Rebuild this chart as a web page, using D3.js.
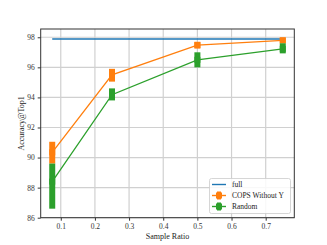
<!DOCTYPE html>
<html><head><meta charset="utf-8">
<script src="https://cdn.jsdelivr.net/npm/d3@7"></script>
<style>body{margin:0;background:#fff}svg{display:block}text{font-family:"Liberation Serif","Times New Roman",serif}</style>
</head><body><div id="c"></div>
<script>
const ratios = [0.075, 0.25, 0.5, 0.75];
const fullValue = 97.88;
const copsMean = [90.35, 95.5, 97.48, 97.8];
const copsLow  = [89.6, 95.05, 97.25, 97.6];
const copsHigh = [91.05, 95.9, 97.7, 97.98];
const randMean = [88.4, 94.18, 96.5, 97.23];
const randLow  = [86.6, 93.8, 96.0, 96.93];
const randHigh = [89.6, 94.6, 97.0, 97.6];
const xTicks = [0.1, 0.2, 0.3, 0.4, 0.5, 0.6, 0.7];
const yTicks = [86, 88, 90, 92, 94, 96, 98];
const seriesNames = ["full", "COPS Without Y", "Random"];
const colors = ["#1f77b4", "#ff7f0e", "#2ca02c"];

const W = 327, H = 245;
const L = 40.7, R = 294.3, T = 29, B = 217.7;
const svg = d3.select("#c").append("svg").attr("width", W).attr("height", H);
const x = d3.scaleLinear().domain([0.04125, 0.78375]).range([L, R]);
const y = d3.scaleLinear().domain([86, 98.55]).range([B, T]);

// grid
const g = svg.append("g");
g.selectAll(".vg").data(xTicks).join("line")
  .attr("x1", d => x(d)).attr("x2", d => x(d)).attr("y1", T).attr("y2", B)
  .attr("stroke", "#d0d0d0").attr("stroke-width", 1.2);
g.selectAll(".hg").data(yTicks).join("line")
  .attr("y1", d => y(d)).attr("y2", d => y(d)).attr("x1", L).attr("x2", R)
  .attr("stroke", "#d0d0d0").attr("stroke-width", 1.2);

// full line
svg.append("line").attr("x1", x(ratios[0])).attr("x2", x(ratios[3]))
  .attr("y1", y(fullValue)).attr("y2", y(fullValue))
  .attr("stroke", colors[0]).attr("stroke-width", 1.4);

function drawSeries(mean, low, high, color) {
  const line = d3.line().x((d, i) => x(ratios[i])).y(d => y(d));
  svg.append("path").datum(mean).attr("d", line).attr("fill", "none")
    .attr("stroke", color).attr("stroke-width", 1.3);
  svg.append("g").selectAll("rect").data(mean).join("rect")
    .attr("x", (d, i) => x(ratios[i]) - 3)
    .attr("width", 6)
    .attr("y", (d, i) => y(high[i]))
    .attr("height", (d, i) => y(low[i]) - y(high[i]))
    .attr("fill", color);
  svg.append("g").selectAll("rect").data(mean).join("rect")
    .attr("x", (d, i) => x(ratios[i]) - 3)
    .attr("y", d => y(d) - 3)
    .attr("width", 6).attr("height", 6).attr("fill", color);
}
drawSeries(copsMean, copsLow, copsHigh, colors[1]);
drawSeries(randMean, randLow, randHigh, colors[2]);

// axes
const xAxis = d3.axisBottom(x).tickValues(xTicks).tickFormat(d3.format(".1f")).tickSize(3).tickPadding(3);
const yAxis = d3.axisLeft(y).tickValues(yTicks).tickFormat(d3.format("d")).tickSize(3).tickPadding(3);
const gx = svg.append("g").attr("transform", `translate(0,${B})`).call(xAxis);
const gy = svg.append("g").attr("transform", `translate(${L},0)`).call(yAxis);
[gx, gy].forEach(a => {
  a.select(".domain").remove();
  a.selectAll("text").attr("font-size", 7.5).attr("fill", "#333").attr("font-family", "Liberation Serif");
  a.selectAll("line").attr("stroke", "#333");
});
svg.append("rect").attr("x", L).attr("y", T).attr("width", R - L).attr("height", B - T)
  .attr("fill", "none").attr("stroke", "#333").attr("stroke-width", 1);

svg.append("text").attr("x", (L + R) / 2).attr("y", 239).attr("text-anchor", "middle")
  .attr("font-size", 8).attr("fill", "#222").text("Sample Ratio");
svg.append("text").attr("transform", `translate(24,${(T + B) / 2}) rotate(-90)`).attr("text-anchor", "middle")
  .attr("font-size", 8).attr("fill", "#222").text("Accuracy@Top1");

// legend
const lg = svg.append("g");
lg.append("rect").attr("x", 209.5).attr("y", 178.5).attr("width", 81).attr("height", 35)
  .attr("rx", 2).attr("fill", "#fff").attr("fill-opacity", 0.85).attr("stroke", "#ccc").attr("stroke-width", 0.8);
const ly = [184.5, 195.5, 206.5];
seriesNames.forEach((n, i) => {
  lg.append("line").attr("x1", 212).attr("x2", 226).attr("y1", ly[i]).attr("y2", ly[i])
    .attr("stroke", colors[i]).attr("stroke-width", 1.4);
  if (i > 0) {
    lg.append("rect").attr("x", 217).attr("y", ly[i] - 4).attr("width", 4).attr("height", 8).attr("fill", colors[i]);
    lg.append("rect").attr("x", 216).attr("y", ly[i] - 3).attr("width", 6).attr("height", 6).attr("fill", colors[i]);
  }
  lg.append("text").attr("x", 232).attr("y", ly[i] + 2.6).attr("font-size", 7.5).attr("fill", "#222").text(n);
});
</script></body></html>
